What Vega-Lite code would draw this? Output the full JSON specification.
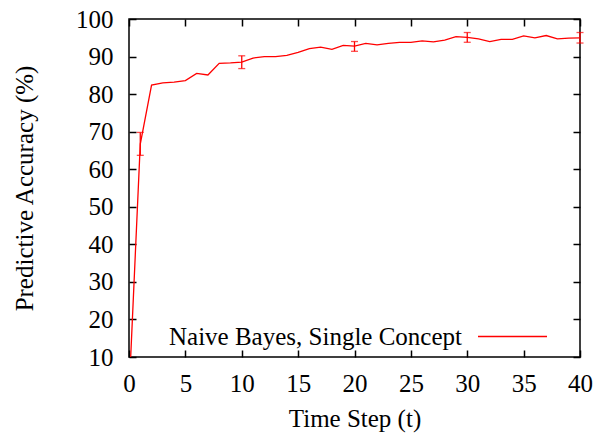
{
  "$schema": "https://vega.github.io/schema/vega-lite/v6.json",
  "width": 451,
  "height": 338,
  "autosize": "none",
  "padding": {"left": 129, "top": 19, "right": 31, "bottom": 79},
  "background": "white",
  "config": {
    "view": {"stroke": "#000", "strokeWidth": 1.5},
    "font": "Liberation Serif",
    "axis": {
      "labelFont": "Liberation Serif",
      "titleFont": "Liberation Serif",
      "labelFontSize": 25,
      "titleFontSize": 25,
      "titleFontWeight": "normal",
      "labelColor": "#000",
      "titleColor": "#000",
      "grid": false,
      "domain": false,
      "tickColor": "#000",
      "tickWidth": 1.5,
      "tickSize": -7
    },
    "legend": {
      "labelFont": "Liberation Serif",
      "labelFontSize": 25,
      "labelColor": "#000",
      "labelLimit": 0
    }
  },
  "data": {
    "values": [
      {"t": 0, "acc": 0, "series": "Naive Bayes, Single Concept"},
      {"t": 1, "acc": 66.7, "lo": 63.7, "hi": 69.8, "series": "Naive Bayes, Single Concept"},
      {"t": 2, "acc": 82.4, "series": "Naive Bayes, Single Concept"},
      {"t": 3, "acc": 83.0, "series": "Naive Bayes, Single Concept"},
      {"t": 4, "acc": 83.2, "series": "Naive Bayes, Single Concept"},
      {"t": 5, "acc": 83.6, "series": "Naive Bayes, Single Concept"},
      {"t": 6, "acc": 85.5, "series": "Naive Bayes, Single Concept"},
      {"t": 7, "acc": 85.1, "series": "Naive Bayes, Single Concept"},
      {"t": 8, "acc": 88.2, "series": "Naive Bayes, Single Concept"},
      {"t": 9, "acc": 88.3, "series": "Naive Bayes, Single Concept"},
      {"t": 10, "acc": 88.5, "lo": 86.8, "hi": 90.2, "series": "Naive Bayes, Single Concept"},
      {"t": 11, "acc": 89.6, "series": "Naive Bayes, Single Concept"},
      {"t": 12, "acc": 90.0, "series": "Naive Bayes, Single Concept"},
      {"t": 13, "acc": 90.0, "series": "Naive Bayes, Single Concept"},
      {"t": 14, "acc": 90.3, "series": "Naive Bayes, Single Concept"},
      {"t": 15, "acc": 91.1, "series": "Naive Bayes, Single Concept"},
      {"t": 16, "acc": 92.1, "series": "Naive Bayes, Single Concept"},
      {"t": 17, "acc": 92.5, "series": "Naive Bayes, Single Concept"},
      {"t": 18, "acc": 91.9, "series": "Naive Bayes, Single Concept"},
      {"t": 19, "acc": 93.0, "series": "Naive Bayes, Single Concept"},
      {"t": 20, "acc": 92.8, "lo": 91.4, "hi": 94.0, "series": "Naive Bayes, Single Concept"},
      {"t": 21, "acc": 93.5, "series": "Naive Bayes, Single Concept"},
      {"t": 22, "acc": 93.1, "series": "Naive Bayes, Single Concept"},
      {"t": 23, "acc": 93.5, "series": "Naive Bayes, Single Concept"},
      {"t": 24, "acc": 93.8, "series": "Naive Bayes, Single Concept"},
      {"t": 25, "acc": 93.8, "series": "Naive Bayes, Single Concept"},
      {"t": 26, "acc": 94.2, "series": "Naive Bayes, Single Concept"},
      {"t": 27, "acc": 93.9, "series": "Naive Bayes, Single Concept"},
      {"t": 28, "acc": 94.4, "series": "Naive Bayes, Single Concept"},
      {"t": 29, "acc": 95.3, "series": "Naive Bayes, Single Concept"},
      {"t": 30, "acc": 95.1, "lo": 93.8, "hi": 96.4, "series": "Naive Bayes, Single Concept"},
      {"t": 31, "acc": 94.7, "series": "Naive Bayes, Single Concept"},
      {"t": 32, "acc": 94.0, "series": "Naive Bayes, Single Concept"},
      {"t": 33, "acc": 94.6, "series": "Naive Bayes, Single Concept"},
      {"t": 34, "acc": 94.6, "series": "Naive Bayes, Single Concept"},
      {"t": 35, "acc": 95.5, "series": "Naive Bayes, Single Concept"},
      {"t": 36, "acc": 95.0, "series": "Naive Bayes, Single Concept"},
      {"t": 37, "acc": 95.6, "series": "Naive Bayes, Single Concept"},
      {"t": 38, "acc": 94.7, "series": "Naive Bayes, Single Concept"},
      {"t": 39, "acc": 94.9, "series": "Naive Bayes, Single Concept"},
      {"t": 40, "acc": 95.0, "lo": 93.6, "hi": 96.4, "series": "Naive Bayes, Single Concept"}
    ]
  },
  "resolve": {"axis": {"x": "independent", "y": "independent"}},
  "layer": [
    {
      "mark": {"type": "line", "clip": true, "strokeWidth": 1.3},
      "encoding": {
        "x": {
          "field": "t", "type": "quantitative",
          "scale": {"domain": [0, 40], "nice": false},
          "axis": {"values": [0,5,10,15,20,25,30,35,40], "title": "Time Step (t)", "labelPadding": 21, "titlePadding": 10, "labelFlush": false}
        },
        "y": {
          "field": "acc", "type": "quantitative",
          "scale": {"domain": [10, 100], "nice": false, "zero": false},
          "axis": {"values": [10,20,30,40,50,60,70,80,90,100], "title": "Predictive Accuracy (%)", "labelPadding": 23, "titlePadding": 38, "labelFlush": false}
        },
        "color": {
          "field": "series", "type": "nominal",
          "scale": {"range": ["#ff0000"]},
          "legend": {
            "title": null,
            "orient": "none",
            "legendX": 348,
            "legendY": 282,
            "padding": 0,
            "symbolType": "stroke",
            "symbolSize": 4761,
            "symbolStrokeWidth": 1.3,
            "labelAlign": "right",
            "labelOffset": -86
          }
        }
      }
    },
    {
      "transform": [{"filter": "isValid(datum.lo)"}],
      "mark": {"type": "rule", "color": "#ff0000", "strokeWidth": 1.3},
      "encoding": {
        "x": {"field": "t", "type": "quantitative", "axis": {"orient": "top", "values": [0,5,10,15,20,25,30,35,40], "labels": false, "title": null}},
        "y": {"field": "lo", "type": "quantitative", "axis": {"orient": "right", "values": [10,20,30,40,50,60,70,80,90,100], "labels": false, "title": null}},
        "y2": {"field": "hi"}
      }
    },
    {
      "transform": [{"filter": "isValid(datum.lo)"}],
      "mark": {"type": "tick", "orient": "horizontal", "color": "#ff0000", "size": 7, "thickness": 1.3},
      "encoding": {
        "x": {"field": "t", "type": "quantitative", "axis": null},
        "y": {"field": "lo", "type": "quantitative", "axis": null}
      }
    },
    {
      "transform": [{"filter": "isValid(datum.lo)"}],
      "mark": {"type": "tick", "orient": "horizontal", "color": "#ff0000", "size": 7, "thickness": 1.3},
      "encoding": {
        "x": {"field": "t", "type": "quantitative", "axis": null},
        "y": {"field": "hi", "type": "quantitative", "axis": null}
      }
    }
  ]
}
